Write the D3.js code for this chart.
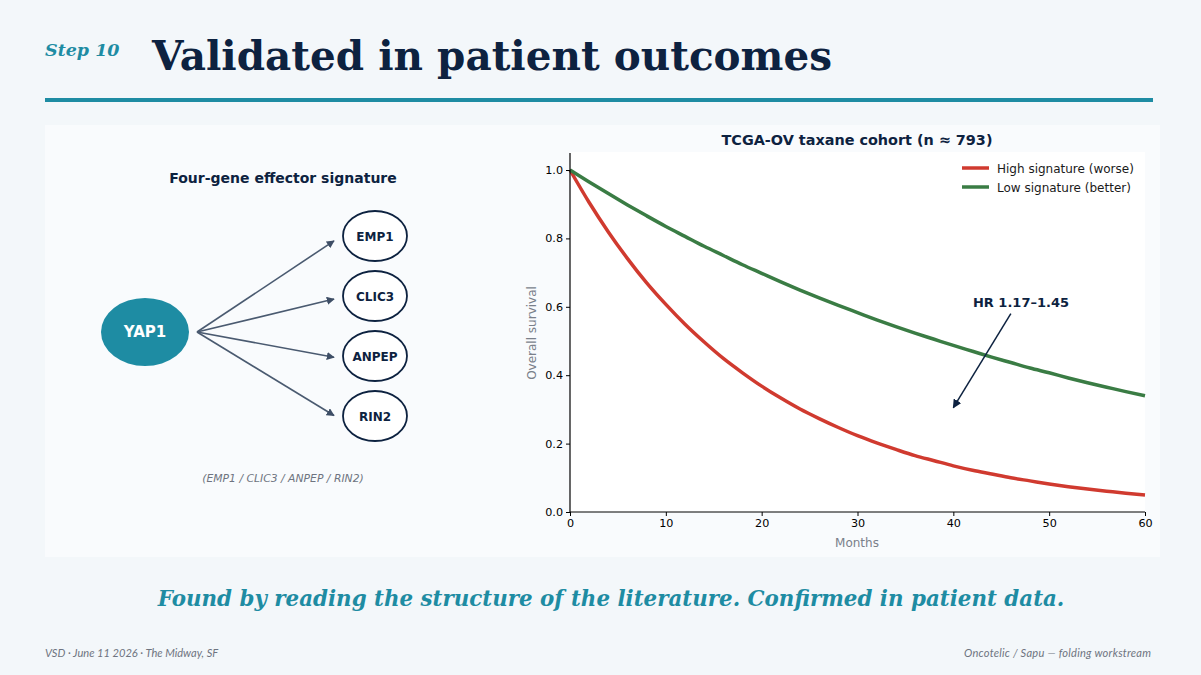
<!DOCTYPE html>
<html>
<head>
<meta charset="utf-8">
<script src="https://cdn.jsdelivr.net/npm/d3@7"></script>
<style>
  html, body { margin: 0; padding: 0; background: #f3f7fa; }
  svg { display: block; }
</style>
</head>
<body>
<svg id="slide" width="1201" height="675"></svg>
<script>
// survival curves (months, survival)
const months     = [0, 2, 4, 6, 8, 10, 12, 14, 16, 18, 20, 22, 24, 26, 28, 30,
                    32, 34, 36, 38, 40, 42, 44, 46, 48, 50, 52, 54, 56, 58, 60]
const highSig    = [1.000, 0.905, 0.819, 0.741, 0.670, 0.607, 0.549, 0.497, 0.449, 0.407, 0.368,
                    0.333, 0.301, 0.273, 0.247, 0.223, 0.202, 0.183, 0.165, 0.150, 0.135,
                    0.122, 0.111, 0.100, 0.091, 0.082, 0.074, 0.067, 0.061, 0.055, 0.050]
const lowSig     = [1.000, 0.965, 0.931, 0.898, 0.866, 0.835, 0.806, 0.777, 0.750, 0.723, 0.698,
                    0.673, 0.649, 0.626, 0.604, 0.583, 0.562, 0.542, 0.523, 0.505, 0.487,
                    0.470, 0.453, 0.437, 0.421, 0.407, 0.392, 0.378, 0.365, 0.352, 0.340]
const seriesNames = ['High signature (worse)', 'Low signature (better)']
const xTicks     = [0, 10, 20, 30, 40, 50, 60]
const yTicks     = [0, 0.2, 0.4, 0.6, 0.8, 1.0]
const genes      = ['EMP1', 'CLIC3', 'ANPEP', 'RIN2']

const navy = '#0d2240'
const teal = '#1e8ca3'
const red  = '#d03a2f'
const green = '#3a7c44'

const svg = d3.select('#slide')

// ---- header
svg.append('text')
    .attr('x', 45).attr('y', 56)
    .attr('fill', teal)
    .style('font-family', 'DejaVu Serif')
    .style('font-style', 'italic')
    .style('font-weight', 'bold')
    .style('font-size', '17.5px')
    .text('Step 10')

svg.append('text')
    .attr('x', 152).attr('y', 70)
    .attr('fill', navy)
    .style('font-family', 'DejaVu Serif')
    .style('font-weight', 'bold')
    .style('font-size', '40.5px')
    .text('Validated in patient outcomes')

svg.append('rect')
    .attr('x', 45).attr('y', 98)
    .attr('width', 1108).attr('height', 4)
    .attr('fill', teal)

// ---- panel
svg.append('rect')
    .attr('x', 45).attr('y', 125)
    .attr('width', 1115).attr('height', 432)
    .attr('fill', '#f9fbfd')

// ---- left: gene network
const left = svg.append('g')

left.append('text')
    .attr('x', 283).attr('y', 183)
    .attr('text-anchor', 'middle')
    .attr('fill', navy)
    .style('font-family', 'DejaVu Sans')
    .style('font-weight', 'bold')
    .style('font-size', '14px')
    .text('Four-gene effector signature')

const defs = svg.append('defs')
defs.append('marker')
    .attr('id', 'arr')
    .attr('viewBox', '0 0 10 10')
    .attr('refX', 9).attr('refY', 5)
    .attr('markerWidth', 5).attr('markerHeight', 5)
    .attr('orient', 'auto')
  .append('path')
    .attr('d', 'M0,0L10,5L0,10z')
    .attr('fill', '#3e4e66')

defs.append('marker')
    .attr('id', 'arr2')
    .attr('viewBox', '0 0 10 10')
    .attr('refX', 9).attr('refY', 5)
    .attr('markerWidth', 6).attr('markerHeight', 6)
    .attr('orient', 'auto')
  .append('path')
    .attr('d', 'M0,0L10,5L0,10z')
    .attr('fill', navy)

const geneY = d3.scalePoint().domain(genes).range([236, 416])
const src = { x: 197, y: 332 }

left.selectAll('.edge').data(genes).enter().append('line')
    .attr('class', 'edge')
    .attr('x1', src.x).attr('y1', src.y)
    .attr('x2', 334)
    .attr('y2', d => src.y + (geneY(d) - src.y) * 0.97 + 2)
    .attr('stroke', '#4a5a70')
    .attr('stroke-width', 1.6)
    .attr('marker-end', 'url(#arr)')

left.append('ellipse')
    .attr('cx', 145).attr('cy', 332)
    .attr('rx', 44).attr('ry', 34)
    .attr('fill', teal)

left.append('text')
    .attr('x', 145).attr('y', 337)
    .attr('text-anchor', 'middle')
    .attr('fill', '#ffffff')
    .style('font-family', 'DejaVu Sans')
    .style('font-weight', 'bold')
    .style('font-size', '15px')
    .text('YAP1')

const nodes = left.selectAll('.gene').data(genes).enter().append('g')
    .attr('class', 'gene')
    .attr('transform', d => `translate(375, ${geneY(d)})`)

nodes.append('ellipse')
    .attr('rx', 32).attr('ry', 25)
    .attr('fill', '#ffffff')
    .attr('stroke', navy)
    .attr('stroke-width', 1.8)

nodes.append('text')
    .attr('text-anchor', 'middle')
    .attr('dy', 4.5)
    .attr('fill', navy)
    .style('font-family', 'DejaVu Sans')
    .style('font-weight', 'bold')
    .style('font-size', '12px')
    .text(d => d)

left.append('text')
    .attr('x', 283).attr('y', 482)
    .attr('text-anchor', 'middle')
    .attr('fill', '#6e7480')
    .style('font-family', 'DejaVu Sans')
    .style('font-style', 'italic')
    .style('font-size', '10.8px')
    .text('(' + genes.join(' / ') + ')')

// ---- right: survival chart
const x = d3.scaleLinear().domain([0, 60]).range([570, 1145])
const y = d3.scaleLinear().domain([0, 1.05]).range([512, 152.9])

svg.append('rect')
    .attr('x', 570).attr('y', 152)
    .attr('width', 575).attr('height', 360)
    .attr('fill', '#ffffff')

svg.append('text')
    .attr('x', 857).attr('y', 145)
    .attr('text-anchor', 'middle')
    .attr('fill', navy)
    .style('font-family', 'DejaVu Sans')
    .style('font-weight', 'bold')
    .style('font-size', '14.4px')
    .text('TCGA-OV taxane cohort (n ≈ 793)')

const line = d3.line()
    .x((d, i) => x(months[i]))
    .y(d => y(d))
    .curve(d3.curveMonotoneX)

const curves = [
    { name: seriesNames[0], values: highSig, color: red },
    { name: seriesNames[1], values: lowSig,  color: green },
]

svg.selectAll('.curve').data(curves).enter().append('path')
    .attr('class', 'curve')
    .attr('d', d => line(d.values))
    .attr('fill', 'none')
    .attr('stroke', d => d.color)
    .attr('stroke-width', 3.5)
    .attr('stroke-linejoin', 'round')

const xAxis = svg.append('g')
    .attr('transform', 'translate(0, 512)')
    .call(d3.axisBottom(x).tickValues(xTicks).tickSize(4).tickPadding(3).tickFormat(d3.format('d')))
const yAxis = svg.append('g')
    .attr('transform', 'translate(570, 0)')
    .call(d3.axisLeft(y).tickValues(yTicks).tickSize(4).tickPadding(3).tickFormat(d3.format('.1f')))

;[xAxis, yAxis].forEach(ax => {
    ax.select('.domain').attr('stroke', '#000').attr('stroke-width', 1.2)
    ax.selectAll('.tick line').attr('stroke', '#000')
    ax.selectAll('.tick text')
        .attr('fill', '#000')
        .style('font-family', 'DejaVu Sans')
        .style('font-size', '11.2px')
})
xAxis.select('.domain').attr('d', 'M570,0H1145')
yAxis.select('.domain').attr('d', 'M0,152.9V512')

svg.append('text')
    .attr('x', 857).attr('y', 547)
    .attr('text-anchor', 'middle')
    .attr('fill', '#7a808a')
    .style('font-family', 'DejaVu Sans')
    .style('font-size', '12px')
    .text('Months')

svg.append('text')
    .attr('transform', 'translate(536, 333) rotate(-90)')
    .attr('text-anchor', 'middle')
    .attr('fill', '#7a808a')
    .style('font-family', 'DejaVu Sans')
    .style('font-size', '12px')
    .text('Overall survival')

// legend
const legend = svg.selectAll('.legend').data(curves).enter().append('g')
    .attr('class', 'legend')
    .attr('transform', (d, i) => `translate(962, ${168 + i * 19})`)

legend.append('line')
    .attr('x1', 0).attr('x2', 27)
    .attr('stroke', d => d.color)
    .attr('stroke-width', 3.5)

legend.append('text')
    .attr('x', 35).attr('dy', 4.5)
    .attr('fill', '#1a1a1a')
    .style('font-family', 'DejaVu Sans')
    .style('font-size', '12px')
    .text(d => d.name)

// hazard ratio annotation
svg.append('text')
    .attr('x', 1021).attr('y', 307)
    .attr('text-anchor', 'middle')
    .attr('fill', navy)
    .style('font-family', 'DejaVu Sans')
    .style('font-weight', 'bold')
    .style('font-size', '13px')
    .text('HR 1.17–1.45')

svg.append('line')
    .attr('x1', x(46)).attr('y1', y(0.58))
    .attr('x2', x(40)).attr('y2', y(0.305))
    .attr('stroke', navy)
    .attr('stroke-width', 1.5)
    .attr('marker-end', 'url(#arr2)')

// ---- footer
svg.append('text')
    .attr('x', 611).attr('y', 606)
    .attr('text-anchor', 'middle')
    .attr('fill', teal)
    .style('font-family', 'DejaVu Serif')
    .style('font-style', 'italic')
    .style('font-weight', 'bold')
    .style('font-size', '21.4px')
    .text('Found by reading the structure of the literature. Confirmed in patient data.')

svg.append('text')
    .attr('x', 45).attr('y', 657)
    .attr('fill', '#6e7480')
    .style('font-family', 'Lato')
    .style('font-style', 'italic')
    .style('font-size', '11.1px')
    .text('VSD · June 11 2026 · The Midway, SF')

svg.append('text')
    .attr('x', 1151).attr('y', 657)
    .attr('text-anchor', 'end')
    .attr('fill', '#6e7480')
    .style('font-family', 'Lato')
    .style('font-style', 'italic')
    .style('font-size', '11.1px')
    .attr('textLength', 187)
    .text('Oncotelic / Sapu — folding workstream')
</script>
</body>
</html>
